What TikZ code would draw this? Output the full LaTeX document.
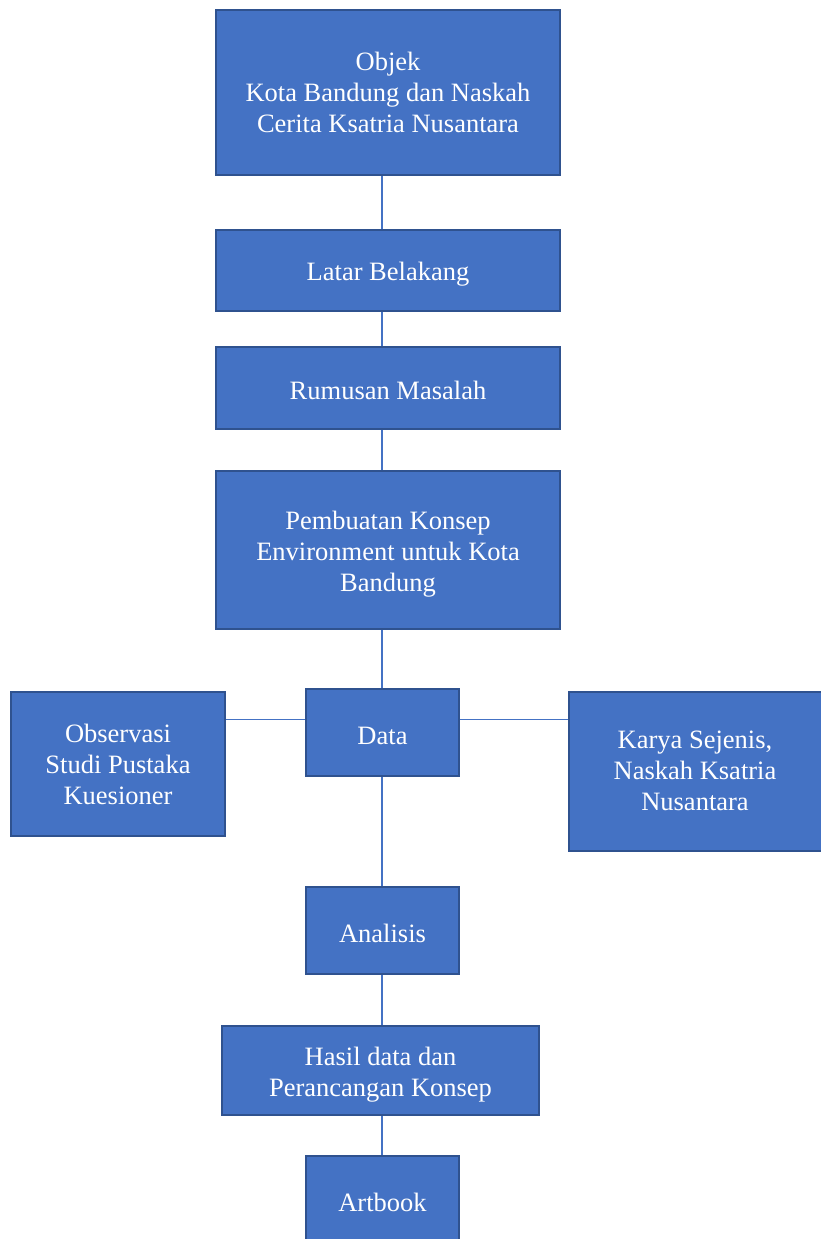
\documentclass[tikz,border=0pt]{standalone}
\usepackage{fontspec}
\setmainfont{Liberation Serif}
\definecolor{boxfill}{HTML}{4472C4}
\definecolor{boxline}{HTML}{2F528F}
\definecolor{conncol}{HTML}{4472C4}
\newcommand{\boxtext}[2][-3pt]{\raisebox{#1}[\height][\depth]{\begin{tabular}{@{}c@{}}#2\end{tabular}}}
\begin{document}
\begin{tikzpicture}[x=1pt,y=-1pt,
  box/.style={draw=boxline,line width=2pt,fill=boxfill,text=white,align=center,
    inner sep=0pt,font=\fontsize{26.5}{31}\selectfont},
  link/.style={draw=conncol,line width=1.4pt}]
\useasboundingbox (0,0) rectangle (821,1239);
\clip (0,0) rectangle (821,1239);
\node[box,minimum width=344pt,minimum height=165pt] (obj) at (388,92.5) {\boxtext[-2.5pt]{Objek\\Kota Bandung dan Naskah\\Cerita Ksatria Nusantara}};
\node[box,minimum width=344pt,minimum height=81pt] (lat) at (388,270.5) {\boxtext[-4pt]{Latar Belakang}};
\node[box,minimum width=344pt,minimum height=82pt] (rum) at (388,388) {\boxtext[-5pt]{Rumusan Masalah}};
\node[box,minimum width=344pt,minimum height=158pt] (pem) at (388,550) {\boxtext[-4.5pt]{Pembuatan Konsep\\Environment untuk Kota\\Bandung}};
\node[box,minimum width=153pt,minimum height=87pt] (dat) at (382.5,732.5) {\boxtext[-5.5pt]{Data}};
\node[box,minimum width=214pt,minimum height=144pt] (obs) at (118,764) {\boxtext[-3pt]{Observasi\\Studi Pustaka\\Kuesioner}};
\node[box,minimum width=253pt,minimum height=159pt] (kar) at (695,771.5) {\boxtext[-2pt]{Karya Sejenis,\\Naskah Ksatria\\Nusantara}};
\node[box,minimum width=153pt,minimum height=87pt] (ana) at (382.5,930.5) {\boxtext[-5.5pt]{Analisis}};
\node[box,minimum width=317pt,minimum height=89pt] (has) at (380.5,1070.5) {\boxtext[-4pt]{Hasil data dan\\Perancangan Konsep}};
\node[box,minimum width=153pt,minimum height=92pt] (art) at (382.5,1202) {\boxtext[-3pt]{Artbook}};
\draw[link] ([xshift=-0.5pt]obj.south -| dat.center) -- ([xshift=-0.5pt]lat.north -| dat.center);
\draw[link] ([xshift=-0.5pt]lat.south -| dat.center) -- ([xshift=-0.5pt]rum.north -| dat.center);
\draw[link] ([xshift=-0.5pt]rum.south -| dat.center) -- ([xshift=-0.5pt]pem.north -| dat.center);
\draw[link] ([xshift=-0.5pt]pem.south -| dat.center) -- ([xshift=-0.5pt]dat.north);
\draw[link] ([xshift=-0.5pt]dat.south) -- ([xshift=-0.5pt]ana.north);
\draw[link] ([xshift=-0.5pt]ana.south) -- ([xshift=-0.5pt]has.north -| dat.center);
\draw[link] ([xshift=-0.5pt]has.south -| dat.center) -- ([xshift=-0.5pt]art.north);
\draw[link] ([yshift=13pt]dat.west) -- ([yshift=13pt]dat.west -| obs.east);
\draw[link] ([yshift=13pt]dat.east) -- ([yshift=13pt]dat.east -| kar.west);
\end{tikzpicture}
\end{document}
